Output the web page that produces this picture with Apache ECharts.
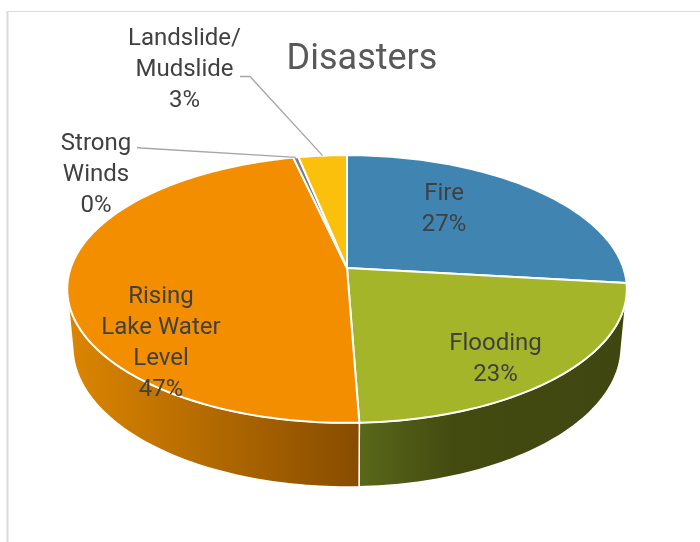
<!DOCTYPE html>
<html><head><meta charset="utf-8">
<script src="https://cdn.jsdelivr.net/npm/echarts@6/dist/echarts.min.js"></script>
<style>html,body{margin:0;padding:0;background:#fff}#c{width:700px;height:542px}</style>
</head><body><div id="c"></div>
<script>
// ---- data ----
const categories = ['Fire', 'Flooding', 'Rising Lake Water Level', 'Strong Winds', 'Landslide/ Mudslide'];
const labelLines = ['Fire', 'Flooding', 'Rising\nLake Water\nLevel', 'Strong\nWinds', 'Landslide/\nMudslide'];
const values = [26.8, 22.6, 47.0, 0.35, 3.25];

// ---- style / layout ----
const topColors = ['#4085B1', '#A4B52A', '#F28E00', '#7F7F7F', '#FAC00B'];
const sideStops = [
  [[0, '#2E6283'], [1, '#24506B']],
  [[0, '#59681A'], [0.35, '#444B10'], [1, '#3F4610']],
  [[0, '#DC8600'], [1, '#874C00']],
  [[0, '#5A5A5A'], [1, '#444444']],
  [[0, '#C99A08'], [1, '#A07A05']]
];
const VIEW = { cx: 347, cy: 268, f: 1553, tilt: 28.2, dist: 5.62, depth: 0.24 };
const labelPos = [[444, 209.5], [495.5, 359.5], [161, 343.5], [96, 174.5], [184.5, 69.5]];
const leaderStart = { 3: [[137, 147.5], [141, 148]], 4: [[240, 76.5], [250, 76.5]] };

const RAD = Math.PI / 180;
const cT = Math.cos(VIEW.tilt * RAD), sT = Math.sin(VIEW.tilt * RAD);
function proj(deg, y) {
  const t = deg * RAD, x = Math.sin(t), z = -Math.cos(t);
  const up = y * cT - z * sT;
  const D = VIEW.dist - (y * sT + z * cT);
  return [VIEW.cx + VIEW.f * x / D, VIEW.cy - VIEW.f * up / D];
}
function hub(y) {
  const up = y * cT, D = VIEW.dist - y * sT;
  return [VIEW.cx, VIEW.cy - VIEW.f * up / D];
}
const total = values.reduce((a, b) => a + b, 0);
function angles(i) {
  let s = 0;
  for (let k = 0; k < i; k++) s += values[k];
  return [s / total * 360, (s + values[i]) / total * 360];
}
function arc(a0, a1, y) {
  const n = Math.max(2, Math.ceil(Math.abs(a1 - a0) / 1.2));
  const pts = [];
  for (let k = 0; k <= n; k++) pts.push(proj(a0 + (a1 - a0) * k / n, y));
  return pts;
}
// visible side range (outward normal facing camera)
const zMin = 1 / (VIEW.dist * cT);
const visLo = Math.acos(-zMin) / RAD, visHi = 360 - visLo;

const chart = echarts.init(document.getElementById('c'), null, { renderer: 'canvas' });
chart.setOption({
  animation: false,
  backgroundColor: '#ffffff',
  graphic: [
    { type: 'line', shape: { x1: 7, y1: 11.5, x2: 700, y2: 11.5 }, style: { stroke: '#D9D9D9', lineWidth: 1 } },
    { type: 'line', shape: { x1: 7.5, y1: 11, x2: 7.5, y2: 542 }, style: { stroke: '#D9D9D9', lineWidth: 2 } },
    { type: 'text', x: 362, y: 60, style: { text: 'Disasters', font: '36px Roboto', fill: '#595959', align: 'center', verticalAlign: 'middle' } }
  ],
  series: [
    {
      type: 'custom', name: 'sides', coordinateSystem: 'none', z: 1,
      data: values,
      renderItem: function (params, api) {
        const i = params.dataIndex;
        let [a0, a1] = angles(i);
        a0 = Math.max(a0, visLo); a1 = Math.min(a1, visHi);
        if (a1 <= a0) return { type: 'group', children: [] };
        const pts = arc(a0, a1, 0).concat(arc(a1, a0, -VIEW.depth));
        return {
          type: 'polygon', shape: { points: pts },
          style: {
            fill: new echarts.graphic.LinearGradient(0, 0, 1, 0, sideStops[i].map(s => ({ offset: s[0], color: s[1] }))),
            stroke: '#ffffff', lineWidth: 1.5, lineJoin: 'round'
          }
        };
      }
    },
    {
      type: 'custom', name: 'Disasters', coordinateSystem: 'none', z: 2,
      data: values,
      renderItem: function (params, api) {
        const i = params.dataIndex;
        const [a0, a1] = angles(i);
        const pts = [hub(0)].concat(arc(a0, a1, 0));
        return {
          type: 'polygon', shape: { points: pts },
          style: { fill: topColors[i], stroke: '#ffffff', lineWidth: 2, lineJoin: 'round' }
        };
      }
    },
    {
      type: 'custom', name: 'labels', coordinateSystem: 'none', z: 3, silent: true,
      data: values,
      renderItem: function (params, api) {
        const i = params.dataIndex;
        const pct = Math.round(api.value(0) / total * 100);
        const children = [{
          type: 'text', x: labelPos[i][0], y: labelPos[i][1],
          style: {
            text: labelLines[i] + '\n' + pct + '%', font: '24px Roboto', fill: '#404040',
            lineHeight: 31, align: 'center', verticalAlign: 'middle'
          }
        }];
        if (leaderStart[i]) {
          const [a0, a1] = angles(i);
          const end = proj((a0 + a1) / 2, 0);
          children.push({
            type: 'polyline', shape: { points: leaderStart[i].concat([end]) },
            style: { stroke: '#A6A6A6', lineWidth: 1.3, fill: null }
          });
        }
        return { type: 'group', children: children };
      }
    }
  ]
});
</script>
</body></html>
